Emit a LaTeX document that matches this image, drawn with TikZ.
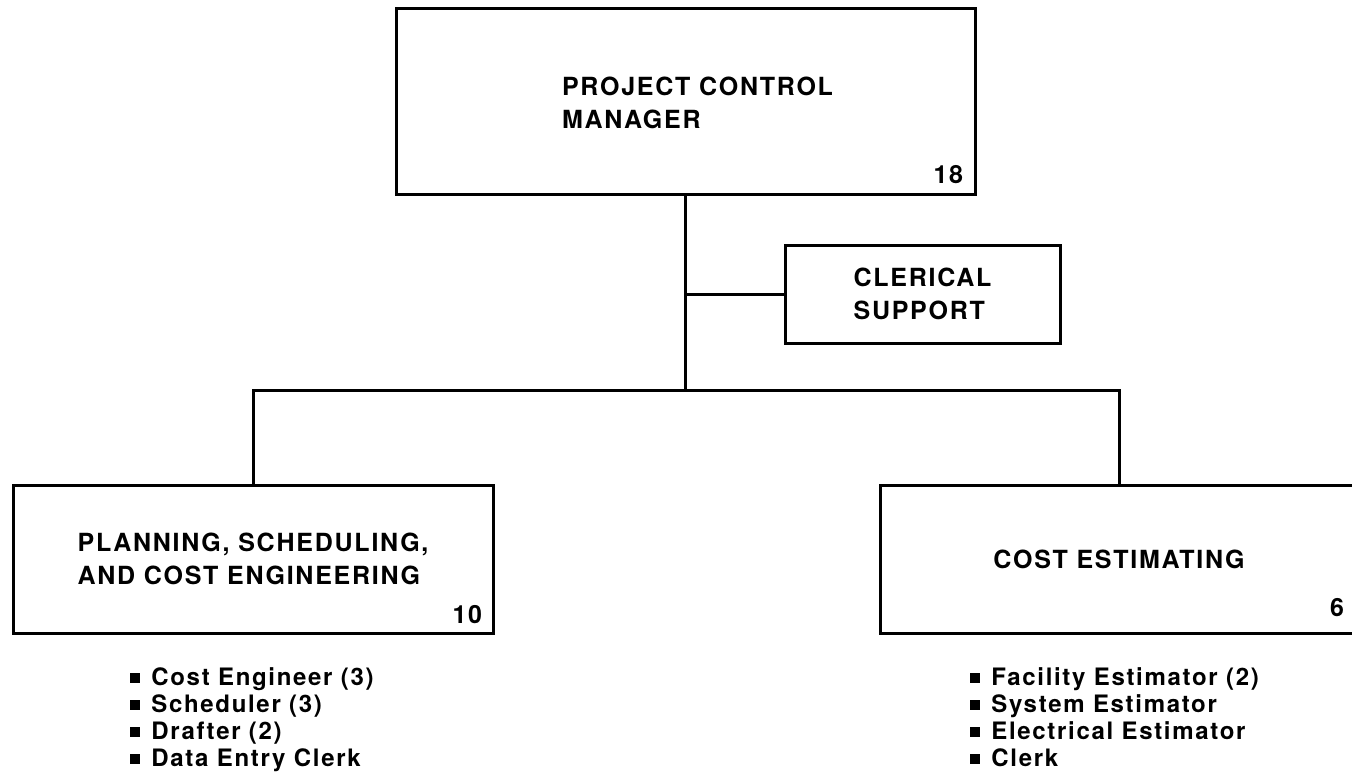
\documentclass[tikz,border=0pt]{standalone}
\usepackage{fontspec}
\setmainfont{TeX Gyre Heros}[LetterSpace=7]
\usetikzlibrary{positioning}

\tikzset{
  unit/.style={draw, line width=1.5pt, inner sep=0pt, align=left,
    font=\bfseries\fontsize{12.5}{16.5}\selectfont},
  title/.style={inner sep=0pt, align=left,
    font=\bfseries\fontsize{12.5}{16.5}\selectfont},
  count/.style={anchor=south east, inner sep=0pt,
    font=\bfseries\fontsize{12.5}{14}\selectfont},
  staff/.style={anchor=north west, inner sep=0pt, align=left,
    font=\bfseries\fontsize{12}{13.5}\selectfont},
  link/.style={line width=1.5pt},
}
\newcommand{\sqbul}{\raisebox{0.1em}{\rule{5pt}{5pt}}\hspace{5.5pt}}

\begin{document}
\begin{tikzpicture}[x=0.5pt, y=-0.5pt]
\useasboundingbox (0,0) rectangle (1352,783);

% boxes
\node[unit, minimum width=289.5pt, minimum height=93pt] (pcm) at (685.5,101) {};
\node[title] (pcmlabel) at ([shift={(12,2)}]pcm.center) {PROJECT CONTROL\\MANAGER};
\node[unit, minimum width=137.5pt, minimum height=49pt] (clerical) at (922.5,294) {CLERICAL\\SUPPORT};
\node[unit, minimum width=240pt, minimum height=74pt] (plan) at (253,559) {PLANNING, SCHEDULING,\\AND COST ENGINEERING};
\node[unit, minimum width=239pt, minimum height=74pt] (estim) at (1119,559) {COST ESTIMATING};

% head counts
\node[count] (pcmn) at ([shift={(-13,-11)}]pcm.south east) {18};
\node[count] (plann) at ([shift={(-12,-10)}]plan.south east) {10};
\node[count] (estimn) at ([shift={(-15,-17)}]estim.south east) {6};

% connectors
\coordinate (bus) at (pcm.south |- 0,390);
\draw[link] (pcm.south) -- (bus);
\draw[link] (pcm.south |- clerical.west) -- (clerical.west);
\draw[link] (plan.north) |- (bus) -| (estim.north);

% staff lists
\node[staff] (planlist) at (130,667) {\sqbul Cost Engineer (3)\\\sqbul Scheduler (3)\\\sqbul Drafter (2)\\\sqbul Data Entry Clerk};
\node[staff] (estimlist) at (970,667) {\sqbul Facility Estimator (2)\\\sqbul System Estimator\\\sqbul Electrical Estimator\\\sqbul Clerk};

\end{tikzpicture}
\end{document}
